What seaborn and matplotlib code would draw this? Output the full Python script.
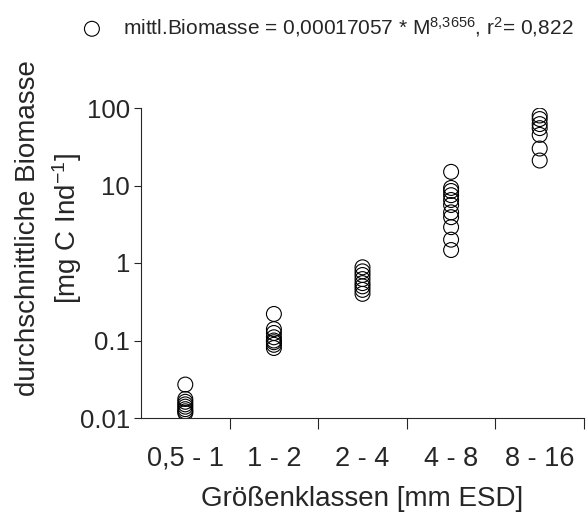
import numpy as np
import pandas as pd
import matplotlib
matplotlib.use("Agg")
import matplotlib.pyplot as plt
import seaborn as sns

klassen = ["0,5 - 1", "1 - 2", "2 - 4", "4 - 8", "8 - 16"]
biomasse_05_1 = [0.027, 0.0176, 0.0162, 0.015, 0.014, 0.013, 0.0122, 0.0116]
biomasse_1_2 = [0.22, 0.14, 0.125, 0.11, 0.1, 0.095, 0.088, 0.08]
biomasse_2_4 = [0.88, 0.78, 0.7, 0.62, 0.55, 0.5, 0.45, 0.4]
biomasse_4_8 = [15.0, 9.3, 8.5, 7.5, 6.5, 5.6, 4.5, 3.9, 2.9, 2.0, 1.47]
biomasse_8_16 = [80.0, 72.0, 62.0, 55.0, 45.0, 30.0, 21.0]

gruppen = [biomasse_05_1, biomasse_1_2, biomasse_2_4, biomasse_4_8, biomasse_8_16]
zeilen = []
for i, werte in enumerate(gruppen):
    for w in werte:
        zeilen.append({"pos": i + 0.5, "Biomasse": w})
df = pd.DataFrame(zeilen)

sns.set_style("ticks")
plt.rcParams["font.family"] = ["Liberation Sans", "DejaVu Sans"]
plt.rcParams["mathtext.default"] = "regular"

fig = plt.figure(figsize=(5.86, 5.2), dpi=100)
ax = fig.add_axes([141 / 586, 1 - 418 / 520, 443 / 586, 310 / 520])

sns.scatterplot(data=df, x="pos", y="Biomasse", ax=ax, s=115, marker="o",
                label=r"mittl.Biomasse = 0,00017057 * M$^{8{,}3656}$, r$^{2}$= 0,822")
pts = ax.collections[0]
pts.set_facecolor("none")
pts.set_edgecolor("black")
pts.set_linewidth(0.8)

ax.set_yscale("log")
ax.set_ylim(0.01, 100)
ax.set_yticks([0.01, 0.1, 1, 10, 100])
ax.set_yticklabels(["0.01", "0.1", "1", "10", "100"])
ax.yaxis.set_minor_locator(matplotlib.ticker.NullLocator())

# Klassengrenzen als Striche, Beschriftung in der Klassenmitte
ax.set_xlim(0, 5)
ax.set_xticks([0.5, 1.5, 2.5, 3.5, 4.5])
ax.set_xticklabels(klassen)
ax.set_xticks([1, 2, 3, 4, 5], minor=True)
ax.tick_params(axis="x", which="major", length=0, pad=20, labelsize=19.5)
ax.tick_params(axis="x", which="minor", length=8, width=0.8, direction="out")
ax.tick_params(axis="y", which="major", length=5, width=0.8, labelsize=18.5, pad=3)

for s in ["top", "right"]:
    ax.spines[s].set_visible(False)
ax.spines["left"].set_linewidth(0.8)
ax.spines["bottom"].set_linewidth(0.8)

ax.set_xlabel("Größenklassen [mm ESD]", fontsize=20, labelpad=10)
ax.set_ylabel("")
fig.text(28 / 586, 1 - 228 / 520, "durchschnittliche Biomasse", rotation=90,
         ha="center", va="center", fontsize=20)
fig.text(67 / 586, 1 - 228 / 520, r"[mg C Ind$^{-1}$]", rotation=90,
         ha="center", va="center", fontsize=20)

ax.legend_.remove()
h, l = ax.get_legend_handles_labels()
leg = fig.legend(h, l, loc="center right", bbox_to_anchor=(582 / 586, 1 - 27 / 520),
                 frameon=False, fontsize=15, handletextpad=0.5, borderaxespad=0)
for lh in leg.legend_handles:
    lh.set_facecolor("none")
    lh.set_edgecolor("black")

fig.savefig("out.png", dpi=100)
